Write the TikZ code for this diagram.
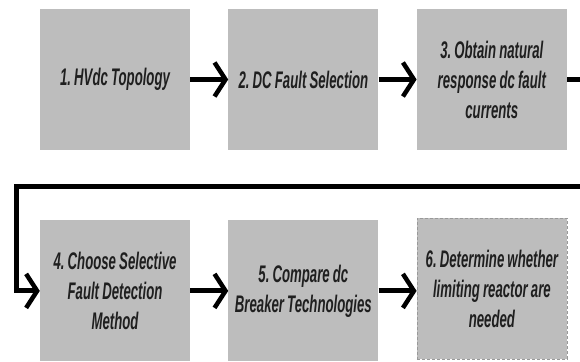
\documentclass[tikz,border=0pt]{standalone}
\usepackage{fontspec}
\setmainfont{Liberation Sans}[FakeStretch=0.55, WordSpace=0.85]
\usetikzlibrary{positioning, arrows.meta}
\definecolor{stagegray}{RGB}{189,189,189}
\frenchspacing
\tikzset{
    >={Straight Barb[length=11pt,width=34pt,line width=4.5pt]}, % open chevron heads
    node distance=38pt, % gap between two boxes of a row
    stage/.style={fill=stagegray, minimum width=150pt, minimum height=141pt, align=center,
        font=\fontsize{24}{30}\selectfont\bfseries\itshape, text=black!88}, % every step box
    flow/.style={->, line width=5pt}, % thick connectors
}

\begin{document}
\begin{tikzpicture}
    \useasboundingbox (0,0) rectangle (580pt,-361pt);
    % first row
    \node[stage] (topo) at (115pt,-79.5pt) {1. HVdc Topology};
    \node[stage, right=of topo] (fault) {2. DC Fault Selection};
    \node[stage, right=of fault] (natural) {3. Obtain natural\\response dc fault\\currents};
    % second row
    \node[stage, below=70pt of topo] (detect) {4. Choose Selective\\Fault Detection\\Method};
    \node[stage, right=of detect] (breaker) {5. Compare dc\\Breaker Technologies};
    \node[stage, right=of breaker, yshift=2pt, draw=gray!80, densely dashed, line width=0.6pt] (reactor) {6. Determine whether\\limiting reactor are\\needed};
    % connectors
    \coordinate (turnR) at (600pt,-186pt);
    \coordinate (turnL) at (16pt,-186pt);
    \draw[flow] (topo) -- (fault);
    \draw[flow] (fault) -- (natural);
    \draw[flow] (natural.east) -| (turnR) -- (turnL) |- (detect.west);
    \draw[flow] (detect) -- (breaker);
    \draw[flow] (breaker) -- (reactor.west |- breaker);
\end{tikzpicture}
\end{document}
